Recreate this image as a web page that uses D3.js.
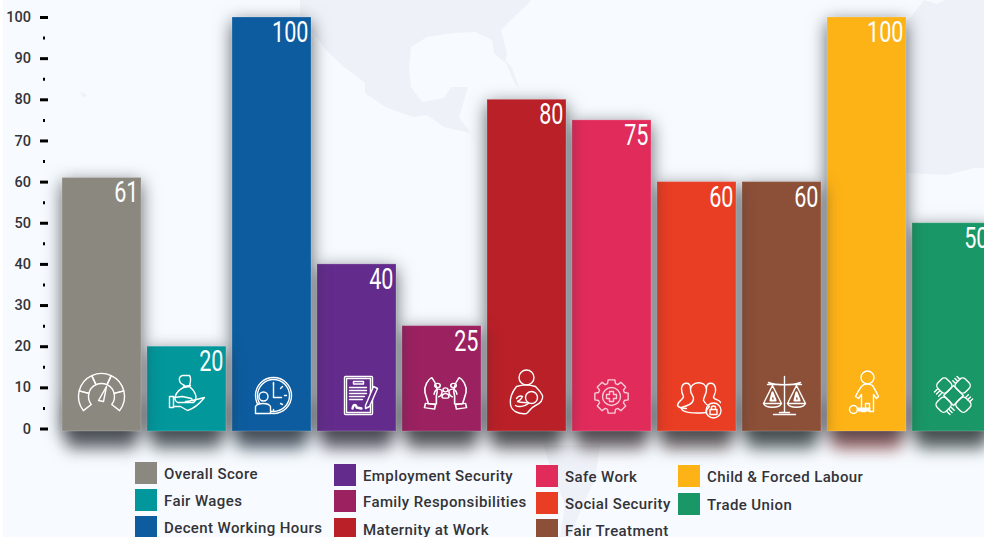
<!DOCTYPE html>
<html>
<head>
<meta charset="utf-8">
<script src="https://cdn.jsdelivr.net/npm/d3@7"></script>
<style>
body { margin: 0; background: #fff; overflow: hidden; }
svg { display: block; }
.tick-lab text { font-family: Roboto, sans-serif; font-weight: 500; font-size: 14.5px; fill: #333338; }
.legend text { font-family: Roboto, sans-serif; font-weight: 500; font-size: 15px; letter-spacing: .4px; fill: #333338; }
.val { font-family: Roboto, sans-serif; font-weight: 400; font-size: 30px; fill: #fff; }
.icon * { fill: none; stroke: #fff; stroke-width: 1.4; stroke-linejoin: round; stroke-linecap: round; }
</style>
</head>
<body>
<div id="chart"></div>
<script>
var categories = ["Overall Score", "Fair Wages", "Decent Working Hours", "Employment Security",
    "Family Responsibilities", "Maternity at Work", "Safe Work", "Social Security",
    "Fair Treatment", "Child & Forced Labour", "Trade Union"];
var values = [61, 20, 100, 40, 25, 80, 75, 60, 60, 100, 50];
var barColors = ["#8b887f", "#02979b", "#0d5c9f", "#632c8c", "#9b2160", "#b92027", "#e12b5a",
    "#e93d24", "#8c4f38", "#fdb216", "#1a9766"];
var shadowColors = ["#3a3f44", "#3a4448", "#2b3a4a", "#3a3545", "#3d3a40", "#3a3438", "#4a3a40",
    "#4a3d3d", "#2e3a3c", "#7a2f30", "#2e3a38"];
var majorTicks = [0, 10, 20, 30, 40, 50, 60, 70, 80, 90, 100];
var minorTicks = [5, 15, 25, 35, 45, 55, 65, 75, 85, 95];

var width = 984, height = 537;

var svg = d3.select("#chart").append("svg")
    .attr("width", width)
    .attr("height", height);

//background and faint world map
svg.append("rect").attr("x", 3).attr("width", width).attr("height", height).attr("fill", "#f7fbff");
var land = svg.append("g").attr("fill", "#eef2f8");
land.append("path").attr("d", "M300 0L531 0L529 3L514 17L501 30L507 53L505 63L494 53L492 40L475 32L453 33L427 37L411 47L409 67L411 87L422 102L444 98L451 87L468 87L459 117L481 147L470 133L444 127L427 115L414 117L387 108L365 93L365 83L344 67L326 50L313 33L300 28Z");
land.append("path").attr("d", "M924 0L911 17L880 40L880 173L907 173L947 175L974 168L984 168L984 0L945 0L937 4Z");
land.append("path").attr("d", "M543 445L600 445L595 480L585 500L570 537L560 537L565 505L550 465Z");
land.append("path").attr("d", "M80 92L87 95L83 98Z");
land.append("path").attr("d", "M505 60L512 68L520 90L514 82Z");
land.append("path").attr("d", "M540 118L560 124L566 132L548 126Z");

var x = d3.scaleBand()
    .domain(categories)
    .range([59, 59 + 85 * categories.length])
    .paddingInner(6 / 85)
    .paddingOuter(3 / 85);

var y = d3.scaleLinear()
    .domain([0, 100])
    .range([428.5, 17]);

var barBottom = y(0) + 2.5;

var defs = svg.append("defs");
var side = defs.append("filter").attr("id", "side")
    .attr("filterUnits", "userSpaceOnUse")
    .attr("x", 0).attr("y", 0).attr("width", width + 100).attr("height", height)
    .attr("color-interpolation-filters", "sRGB");
side.append("feDropShadow").attr("dx", 0).attr("dy", 5).attr("stdDeviation", 9)
    .attr("flood-color", "#2a2f36").attr("flood-opacity", .75);
var under = defs.append("filter").attr("id", "under")
    .attr("filterUnits", "userSpaceOnUse")
    .attr("x", 0).attr("y", 360).attr("width", width + 100).attr("height", 177)
    .attr("color-interpolation-filters", "sRGB");
under.append("feGaussianBlur").attr("stdDeviation", 8);

var bars = categories.map(function(c, i) {
    return {name: c, value: values[i], color: barColors[i], shadow: shadowColors[i], i: i};
});

//soft shadow below each bar
svg.append("g").attr("filter", "url(#under)").selectAll("rect")
    .data(bars)
    .join("rect")
    .attr("x", d => x(d.name) + 5)
    .attr("width", x.bandwidth() - 10)
    .attr("y", barBottom - 30)
    .attr("height", 48)
    .attr("fill", d => d.shadow)
    .attr("opacity", .7);

//bars go right to left, so each one drops its shadow on the next
svg.append("g").selectAll("rect")
    .data(bars.slice().reverse())
    .join("rect")
    .attr("x", d => x(d.name))
    .attr("width", x.bandwidth())
    .attr("y", d => y(d.value))
    .attr("height", d => barBottom - y(d.value))
    .attr("fill", d => d.color)
    .attr("stroke", "#fff")
    .attr("stroke-opacity", .2)
    .attr("filter", "url(#side)");

//value labels, squeezed since no condensed face is around
svg.append("g").selectAll("text")
    .data(bars)
    .join("text")
    .attr("class", "val")
    .attr("text-anchor", "end")
    .attr("transform", d => "translate(" + (x(d.name) + x.bandwidth() - 2.5) + "," + (y(d.value) + 25) + ") scale(.72,1)")
    .text(d => d.value);

//axis
var axisMajor = svg.append("g")
    .attr("class", "tick-lab")
    .attr("transform", "translate(48,0)")
    .call(d3.axisLeft(y).tickValues(majorTicks).tickSize(8).tickPadding(9));
axisMajor.select(".domain").remove();
axisMajor.selectAll("line").attr("stroke", "#000").attr("stroke-width", 3);

var axisMinor = svg.append("g")
    .attr("transform", "translate(45,0)")
    .call(d3.axisLeft(y).tickValues(minorTicks).tickSize(2).tickFormat(""));
axisMinor.select(".domain").remove();
axisMinor.selectAll("line").attr("stroke", "#000").attr("stroke-width", 3);

//legend
var legendSpots = [
    [135, 462], [135, 489], [135, 516],
    [334, 464], [334, 490], [334, 518],
    [536, 465], [536, 492], [536, 519],
    [678, 465], [678, 493]
];
var legend = svg.append("g").attr("class", "legend").selectAll("g")
    .data(bars)
    .join("g")
    .attr("transform", d => "translate(" + legendSpots[d.i][0] + "," + legendSpots[d.i][1] + ")");
legend.append("rect").attr("width", 22).attr("height", 22).attr("fill", d => d.color);
legend.append("text").attr("x", 29).attr("y", 17).text(d => d.name);

//icons
var arc = d3.arc();
function gauge(g) {
    var stops = [-128, -76, -25, 25, 76, 128];
    for (var k = 0; k < 5; k++) {
        g.append("path").attr("d", arc({
            innerRadius: 13, outerRadius: 23,
            startAngle: stops[k] * Math.PI / 180, endAngle: stops[k + 1] * Math.PI / 180
        }));
    }
    g.append("path").attr("d", "M-3 4L5 -10L2 5Z");
}
function bag(g) {
    g.append("path").attr("d", "M-3 -7C-11 -3 -14 5 -9 8L7 8C12 4 9 -3 3 -8Z");
    g.append("path").attr("d", "M-3 -8L4 -9M-2 -9C-9 -12 -8 -18 -4 -19L3 -19C5 -16 4 -12 3 -9");
    g.append("path").attr("d", "M-13 3L-4 2L5 4C7 6 3 7 -1 7M6 6L18 3C14 8 8 14 1 16L-6 12L-13 12");
    g.append("rect").attr("x", -17).attr("y", 2).attr("width", 4).attr("height", 11);
}
function clock(g) {
    g.append("circle").attr("cx", 2).attr("cy", -1).attr("r", 18);
    g.append("circle").attr("cx", 2).attr("cy", -1).attr("r", 16);
    g.append("path").attr("d", "M2 -13L2 1L10 1");
    g.append("circle").attr("cx", -8).attr("cy", 0).attr("r", 4.5).style("fill", "#0d5c9f");
    g.append("path").attr("d", "M-16 17L-16 10C-14 6 -3 6 -1 10L-1 17Z").style("fill", "#0d5c9f");
    g.append("path").attr("d", "M2 -14V-12M15 -1H13M11 -10L9 -8M11 8L9 7M2 15V13");
}
function contract(g) {
    g.append("rect").attr("x", -15).attr("y", -19).attr("width", 28).attr("height", 38).attr("rx", 1);
    g.append("rect").attr("x", -13).attr("y", -17).attr("width", 24).attr("height", 34);
    g.append("rect").attr("x", -6).attr("y", -14).attr("width", 10).attr("height", 2.5);
    g.append("path").attr("d", "M-10 -8H7M-10 -5H7M-10 -2H7M-10 1H5M-10 4H3");
    g.append("path").attr("d", "M-7 13C-6 8 -3 9 -3 12L2 13").style("stroke-width", 2.4);
    g.append("path").attr("d", "M6 10L14 -9L18 -7L10 11L6 13Z").style("fill", "#632c8c");
}
function family(g) {
    g.attr("transform", g.attr("transform") + " scale(1.14,.88)");
    g.append("path").attr("d", "M-15 13L-18 0C-19 -8 -15 -15 -12 -17C-8 -10 -6 -4 -8 4L-8 13Z");
    g.append("path").attr("d", "M15 13L18 0C19 -8 15 -15 12 -17C8 -10 6 -4 8 4L8 13Z");
    g.append("rect").attr("x", -18).attr("y", 13).attr("width", 9).attr("height", 5).attr("transform", "rotate(10 -14 15)");
    g.append("rect").attr("x", 9).attr("y", 13).attr("width", 9).attr("height", 5).attr("transform", "rotate(-10 14 15)");
    g.append("circle").attr("cx", -7).attr("cy", -8).attr("r", 2.4);
    g.append("circle").attr("cx", 7).attr("cy", -8).attr("r", 2.4);
    g.append("circle").attr("cx", 0).attr("cy", -3).attr("r", 2.2);
    g.append("path").attr("d", "M-10 2C-9 -5 -5 -5 -3 -2C-3 2 -4 4 -6 5M10 2C9 -5 5 -5 3 -2C3 2 4 4 6 5M-3 5C-3 0 3 0 3 5C3 7 -3 7 -3 5Z");
}
function mother(g) {
    g.append("circle").attr("cx", 0).attr("cy", -17).attr("r", 7.5);
    g.append("path").attr("d", "M-10 -8C-14 -3 -17 4 -16 10C-15 17 -7 20 0 19C3 17 4 13 9 11C14 9 17 5 16 1C14 -3 11 -6 9 -8C3 -10 -4 -10 -10 -8Z");
    g.append("circle").attr("cx", 5).attr("cy", 3).attr("r", 6);
    g.append("path").attr("d", "M-10 4C-8 1 -6 1 -4 2C-5 5 -7 6 -9 7M-9 7C-4 9 0 7 2 9C-2 12 -8 13 -11 11");
}
function gear(g) {
    var pts = [];
    for (var k = 0; k < 8; k++) {
        var a = k * Math.PI / 4;
        [[-.3, 13.5], [-.2, 17], [.2, 17], [.3, 13.5]].forEach(function(p) {
            pts.push([p[1] * Math.sin(a + p[0]), -p[1] * Math.cos(a + p[0])]);
        });
    }
    g.attr("opacity", .75);
    g.append("path").attr("d", d3.line()(pts) + "Z");
    g.append("circle").attr("r", 9);
    g.append("path").attr("d", "M-2 -5H2V-2H5V2H2V5H-2V2H-5V-2H-2Z");
}
function people(g) {
    g.append("path").attr("d", "M-8 -9C-8 -16 -16 -16 -17 -9C-17 -5 -16 -3 -15 -1C-15 2 -21 4 -21 8C-19 11 -14 11 -12 11");
    g.append("path").attr("d", "M8 -9C8 -16 16 -16 17 -9C18 -4 15 -3 15 0C17 3 21 2 22 5");
    g.append("path").attr("d", "M-8 -8C-8 -16 7 -18 8 -8C8 -3 5 -1 5 3C7 7 9 8 11 9C7 13 8 14 8 15C-2 16 -18 16 -17 10C-10 8 -5 6 -5 1C-5 -2 -8 -3 -8 -8Z");
    g.append("circle").attr("cx", 15).attr("cy", 13).attr("r", 7.5);
    g.append("rect").attr("x", 11.5).attr("y", 12).attr("width", 7).attr("height", 5);
    g.append("path").attr("d", "M13 12V10C13 8 17 8 17 10V12");
}
function scales(g) {
    g.append("path").attr("d", "M0 -20V16M-11 18H11M-5 16H5M-16 -14C-8 -11 8 -11 16 -14M-17 -12H-7M7 -12H17");
    g.append("path").attr("d", "M-12 -11L-21 7H-3ZM12 -11L3 7H21ZM-21 7C-19 12 -5 12 -3 7M3 7C5 12 19 12 21 7");
    g.append("path").attr("d", "M-12 -4L-14 4H-9ZM12 -4L10 4H15Z").style("stroke-width", 2.2);
}
function child(g) {
    g.append("circle").attr("cx", 1).attr("cy", -17).attr("r", 6.5);
    g.append("path").attr("d", "M-4 -9C-7 -6 -9 -2 -11 2L-8 4L-5 0L-5 8V17H-1V9H3V17H7V8L7 0L10 4L12 2C10 -2 8 -6 6 -9C3 -11 -2 -11 -4 -9Z");
    g.append("circle").attr("cx", -13).attr("cy", 15).attr("r", 4);
    g.append("path").attr("d", "M-9 14H3M-9 16H3").style("stroke-width", 1.8);
}
function hands(g) {
    g.attr("transform", g.attr("transform") + " rotate(45)");
    g.append("rect").attr("x", -7).attr("y", -7).attr("width", 14).attr("height", 14);
    [[-7, -20], [7, -7], [-7, 7], [-20, -7]].forEach(function(p) {
        g.append("rect").attr("x", p[0]).attr("y", p[1]).attr("width", 13).attr("height", 13).attr("rx", 4);
    });
    g.append("path").attr("d", "M-7 -16H-11M-7 -13H-11M-7 -10H-11M16 -7V-11M13 -7V-11M10 -7V-11M7 16H11M7 13H11M7 10H11M-16 7V11M-13 7V11M-10 7V11");
}
var iconDraw = [gauge, bag, clock, contract, family, mother, gear, people, scales, child, hands];
var iconNudge = [[0, 0], [0, -2], [0, 0], [3, -1], [4, -4], [0, -2], [0, 0], [2, 1], [3, 0], [0, -2], [2, -1]];
svg.append("g").selectAll("g")
    .data(bars)
    .join("g")
    .attr("class", "icon")
    .attr("transform", d => "translate(" + (x(d.name) + x.bandwidth() / 2 + iconNudge[d.i][0]) + "," + (396.5 + iconNudge[d.i][1]) + ")")
    .each(function(d) { iconDraw[d.i](d3.select(this)); });
</script>
</body>
</html>
